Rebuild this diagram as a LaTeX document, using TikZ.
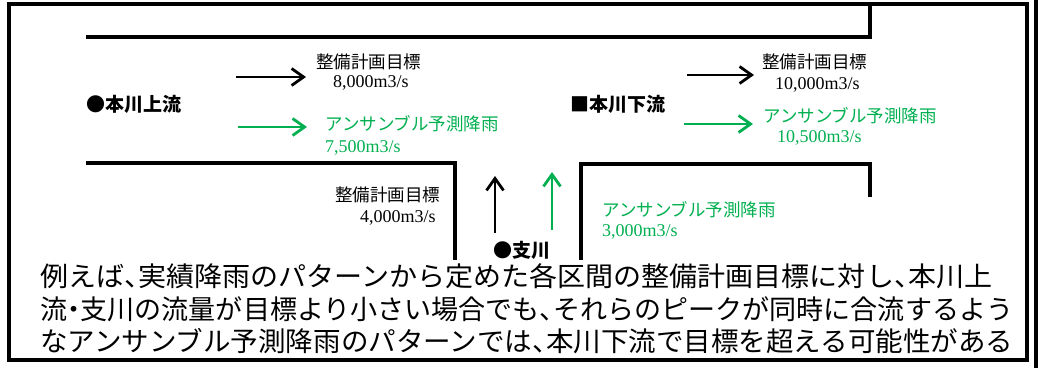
\documentclass[tikz,border=0pt]{standalone}
\usepackage{graphicx}
\usepackage{fontspec}
\setmainfont{Liberation Serif}
\newfontfamily\cjk{Noto Sans CJK JP}
\usetikzlibrary{arrows.meta}
\definecolor{eg}{RGB}{0,176,80}
\newcommand\hcomma{\makebox[0.5em][l]{、}}
\newcommand\hdot{\makebox[0.5em][c]{・}}
\begin{document}
\begin{tikzpicture}[x=1pt,y=-1pt,
  frameline/.style={line width=3.5pt},
  bank/.style={line width=3.5pt, line join=miter},
  flow/.style={line width=2.8pt, -{Straight Barb[length=12pt,width=17pt,line width=2.8pt]}},
  lbl/.style={font=\cjk\fontsize{17.5}{20}\selectfont, inner sep=0pt, anchor=west},
  num/.style={font=\fontsize{18}{20}\selectfont, inner sep=0pt, anchor=west},
  place/.style={font=\cjk\bfseries\fontsize{19}{20}\selectfont, inner sep=0pt, anchor=west},
  para/.style={font=\cjk\fontsize{27}{30}\selectfont, inner sep=0pt, anchor=west},
  green/.style={text=eg}]
\useasboundingbox (0,0) rectangle (1044,368);
\fill[white] (0,0) rectangle (1044,368);
% frames
\draw[frameline] (9,4) rectangle (1027,360);
\draw[line width=4.5pt] (1036,0) -- (1036,368);
% river banks
\draw[bank] (86,37) -- (870,37) -- (870,4);
\draw[bank] (86,163) -- (455,163) -- (455,260);
\draw[bank] (581,260) -- (581,164) -- (870,164) -- (870,197);
% arrows
\coordinate (a1s) at (236,77); \coordinate (a1e) at (306,77);
\coordinate (a2s) at (238,127); \coordinate (a2e) at (307,127);
\coordinate (a3s) at (687,75); \coordinate (a3e) at (754,75);
\coordinate (a4s) at (684,124); \coordinate (a4e) at (753,124);
\coordinate (a5s) at (495,233); \coordinate (a5e) at (495,176);
\coordinate (a6s) at (552,230); \coordinate (a6e) at (552,172);
\draw[flow] (a1s) -- (a1e);
\draw[flow, eg] (a2s) -- (a2e);
\draw[flow] (a3s) -- (a3e);
\draw[flow, eg] (a4s) -- (a4e);
\draw[flow] (a5s) -- (a5e);
\draw[flow, eg] (a6s) -- (a6e);
% labels upstream
\node[lbl] (t1) at (316,62) {整備計画目標};
\node[num] (n1) at (333,83) {8,000m3/s};
\node[place] (up) at (86,104) {●本川上流};
\node[lbl, green] (g1) at (325,124) {アンサンブル予測降雨};
\node[num, green] (gn1) at (325,148) {7,500m3/s};
% labels downstream
\node[lbl] (t2) at (762,62) {整備計画目標};
\node[num] (n2) at (775,85) {10,000m3/s};
\node[place] (down) at (570,104) {■本川下流};
\node[lbl, green] (g2) at (763,116) {アンサンブル予測降雨};
\node[num, green] (gn2) at (777,138) {10,500m3/s};
% tributary
\node[lbl] (t3) at (335,195) {整備計画目標};
\node[num] (n3) at (360,218) {4,000m3/s};
\node[lbl, green] (g3) at (602,210) {アンサンブル予測降雨};
\node[num, green] (gn3) at (602,232) {3,000m3/s};
\node[place] (trib) at (493,250) {●支川};
% paragraph
\node[para] (p1) at (40,276) {\resizebox{952pt}{\height}{例えば\hcomma 実績降雨のパターンから定めた各区間の整備計画目標に対し\hcomma 本川上}};
\node[para] (p2) at (40,309) {\resizebox{973pt}{\height}{流\hdot 支川の流量が目標より小さい場合でも\hcomma それらのピークが同時に合流するよう}};
\node[para] (p3) at (40,341) {\resizebox{973pt}{\height}{なアンサンブル予測降雨のパターンでは\hcomma 本川下流で目標を超える可能性がある}};
\end{tikzpicture}
\end{document}
